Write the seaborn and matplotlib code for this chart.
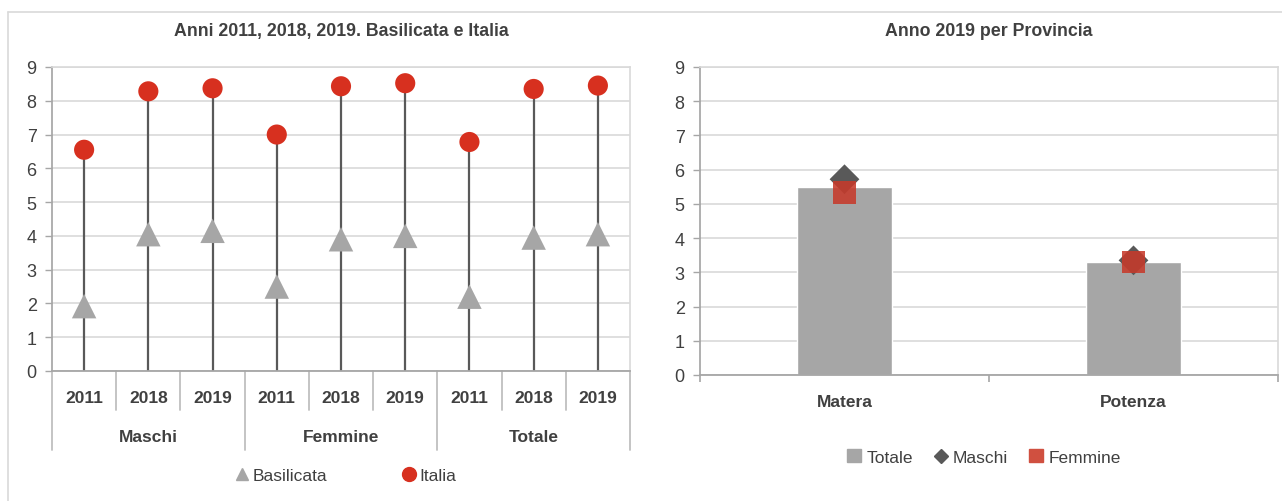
import numpy as np
import pandas as pd
import matplotlib
matplotlib.use("Agg")
import matplotlib.pyplot as plt
import seaborn as sns
from matplotlib.lines import Line2D
from matplotlib.patches import Patch

# ---- data ----
groups = ["Maschi", "Femmine", "Totale"]
years = ["2011", "2018", "2019"]
basilicata = [1.92, 4.05, 4.15, 2.5, 3.9, 4.0, 2.2, 3.95, 4.05]
italia = [6.55, 8.28, 8.37, 7.0, 8.43, 8.52, 6.78, 8.35, 8.45]

province = ["Matera", "Potenza"]
totale_prov = [5.5, 3.3]
maschi_prov = [5.72, 3.35]
femmine_prov = [5.33, 3.3]

yticks = list(range(0, 10))

# ---- style ----
sns.set_theme(style="white")
plt.rcParams["font.family"] = ["Liberation Sans Narrow", "Liberation Sans", "DejaVu Sans"]
TXT = "#404040"
GRID = "#D9D9D9"
RED = "#D7301F"
GRAY = "#A6A6A6"
DARK = "#595959"

W, H = 1282, 502
fig = plt.figure(figsize=(W / 100, H / 100), dpi=100)

def fx(px):
    return px / W

def fy(py):
    return 1 - py / H

# figure frame lines
fig.add_artist(Line2D([fx(8), fx(1282)], [fy(13), fy(13)], color="#D9D9D9", lw=1.2))
fig.add_artist(Line2D([fx(8), fx(8)], [fy(13), fy(502)], color="#D9D9D9", lw=1.2))

# ---------------- left chart ----------------
ax1 = fig.add_axes([fx(52), fy(372), fx(630) - fx(52), fy(68) - fy(372)])
n = len(basilicata)
xpos = np.arange(n)
df1 = pd.DataFrame({"x": np.concatenate([xpos, xpos]),
                    "y": basilicata + italia,
                    "serie": ["Basilicata"] * n + ["Italia"] * n})

ax1.vlines(xpos, 0, italia, color=DARK, lw=1.6, zorder=2)
sns.scatterplot(data=df1[df1.serie == "Basilicata"], x="x", y="y", ax=ax1,
                marker="^", s=310, color=GRAY, edgecolor="none", zorder=3, legend=False)
sns.scatterplot(data=df1[df1.serie == "Italia"], x="x", y="y", ax=ax1,
                marker="o", s=210, color=RED, edgecolor="none", zorder=4, legend=False)

ax1.set_xlim(-0.5, n - 0.5)
ax1.set_ylim(0, 9)
ax1.set_yticks(yticks)
ax1.set_yticklabels([str(v) for v in yticks], fontsize=13, color=TXT)
ax1.yaxis.grid(True, color=GRID, lw=1.2)
ax1.set_axisbelow(True)
ax1.set_xlabel("")
ax1.set_ylabel("")
ax1.set_xticks(xpos)
ax1.set_xticklabels(years * 3, fontsize=12.5, fontweight="bold", color=TXT)
ax1.tick_params(axis="x", length=0, pad=14)
ax1.tick_params(axis="y", length=5, width=1, color="#A6A6A6", direction="out", pad=6, left=True)
for s in ["top", "right"]:
    ax1.spines[s].set_color(GRID)
    ax1.spines[s].set_linewidth(1.2)
ax1.spines["left"].set_color("#A6A6A6")
ax1.spines["bottom"].set_color("#A6A6A6")
ax1.spines["bottom"].set_linewidth(1.3)
ax1.set_title("Anni 2011, 2018, 2019. Basilicata e Italia", fontsize=12.8,
              fontweight="bold", color=TXT, pad=23)

# hierarchical separators
trans = ax1.get_xaxis_transform()
dy_px = 1.0 / (372 - 68)
for b in np.arange(-0.5, n, 1.0):
    is_group = abs((b + 0.5) % 3) < 1e-9
    bottom = -(451 - 372) * dy_px if is_group else -(411 - 372) * dy_px
    ax1.plot([b, b], [0, bottom], transform=trans, color="#BFBFBF", lw=1.3, clip_on=False)
for i, g in enumerate(groups):
    ax1.text(3 * i + 1, -(437 - 372) * dy_px, g, transform=trans, ha="center", va="center",
             fontsize=12.5, fontweight="bold", color=TXT)

h1 = [Line2D([], [], marker="^", color=GRAY, lw=0, markersize=8),
      Line2D([], [], marker="o", color=RED, lw=0, markersize=10)]
fig.legend(h1, ["Basilicata", "Italia"], loc="center", bbox_to_anchor=(fx(345), fy(476)),
           ncol=2, frameon=False, fontsize=12.5, labelcolor=TXT, handletextpad=0.1,
           handlelength=1.0, columnspacing=4.2)

# ---------------- right chart ----------------
ax2 = fig.add_axes([fx(700), fy(376), fx(1278) - fx(700), fy(68) - fy(376)])
df2 = pd.DataFrame({"Provincia": province, "Totale": totale_prov,
                    "Maschi": maschi_prov, "Femmine": femmine_prov})
sns.barplot(data=df2, x="Provincia", y="Totale", ax=ax2, color=GRAY, width=0.33,
            saturation=1, zorder=2)
sns.scatterplot(data=df2, x="Provincia", y="Maschi", ax=ax2, marker="D", s=230,
                color=DARK, edgecolor="none", zorder=3, legend=False)
sns.scatterplot(data=df2, x="Provincia", y="Femmine", ax=ax2, marker="s", s=260,
                color="#C63A2B", alpha=0.88, edgecolor="none", zorder=4, legend=False)
ax2.set_xlim(-0.5, 1.5)
ax2.set_ylim(0, 9)
ax2.set_yticks(yticks)
ax2.set_yticklabels([str(v) for v in yticks], fontsize=13, color=TXT)
ax2.yaxis.grid(True, color=GRID, lw=1.2)
ax2.set_axisbelow(True)
ax2.set_xlabel("")
ax2.set_ylabel("")
ax2.set_xticks([0, 1])
ax2.set_xticklabels(province, fontsize=12.5, fontweight="bold", color=TXT)
ax2.set_xticks([-0.5, 0.5, 1.5], minor=True)
ax2.tick_params(axis="x", which="major", length=0, pad=14)
ax2.tick_params(axis="x", which="minor", length=5, width=1.2, color="#A6A6A6",
                direction="out", bottom=True)
ax2.tick_params(axis="y", length=5, width=1, color="#A6A6A6", direction="out", pad=6, left=True)
for s in ["top", "right"]:
    ax2.spines[s].set_color(GRID)
    ax2.spines[s].set_linewidth(1.2)
ax2.spines["left"].set_color("#A6A6A6")
ax2.spines["bottom"].set_color("#A6A6A6")
ax2.spines["bottom"].set_linewidth(1.3)
ax2.set_title("Anno 2019 per Provincia", fontsize=12.8, fontweight="bold", color=TXT, pad=23)

h2 = [Patch(color=GRAY),
      Line2D([], [], marker="D", color=DARK, lw=0, markersize=7),
      Patch(color="#D05040")]
fig.legend(h2, ["Totale", "Maschi", "Femmine"], loc="center",
           bbox_to_anchor=(fx(984), fy(458)), ncol=3, frameon=False, fontsize=12.5,
           labelcolor=TXT, handletextpad=0.3, columnspacing=1.2, handlelength=0.8,
           handleheight=0.8)

fig.savefig("out.png", dpi=100)
